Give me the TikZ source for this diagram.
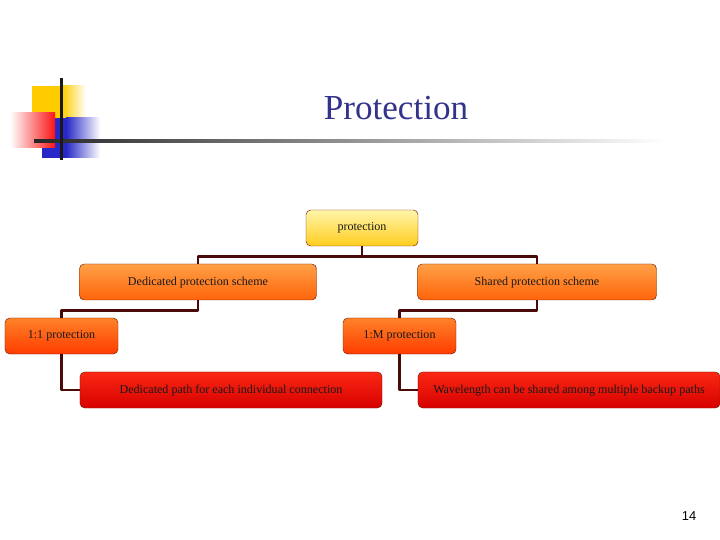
\documentclass[tikz,border=0pt]{standalone}
\usepackage{fontspec}
\setmainfont{Liberation Serif}
\newfontfamily\numfont{Liberation Sans}
\usetikzlibrary{positioning}
\definecolor{boxline}{RGB}{110,30,10}
\definecolor{linkbrown}{RGB}{75,10,10}
\definecolor{titleblue}{RGB}{51,51,140}
\definecolor{logoyellow}{RGB}{255,204,0}
\definecolor{logoblue}{RGB}{40,40,200}
\definecolor{logored}{RGB}{250,20,20}
\tikzset{box/.style={draw=boxline,rounded corners=4pt,minimum height=1.08cm,inner sep=1pt,
    text=black!90,font=\fontsize{10.3}{12}\selectfont,text depth=0.4ex},
  toplev/.style={box,top color={rgb,255:red,255;green,245;blue,170},bottom color={rgb,255:red,255;green,205;blue,30}},
  midlev/.style={box,top color={rgb,255:red,255;green,160;blue,70},bottom color={rgb,255:red,255;green,100;blue,10}},
  sublev/.style={box,top color={rgb,255:red,255;green,130;blue,40},bottom color={rgb,255:red,255;green,60;blue,0}},
  leaflev/.style={box,top color={rgb,255:red,250;green,40;blue,20},bottom color={rgb,255:red,215;green,0;blue,0}},
  link/.style={draw=linkbrown,line width=2.4pt}}

\begin{document}
\begin{tikzpicture}[x=0.03cm,y=-0.03cm,line join=round]
\useasboundingbox (0,0) rectangle (720,540);
% --- logo in the corner
\fill[logoyellow] (32,86) rectangle (62,118);
\shade[left color=logoyellow,right color=white] (62,86) rectangle (86,118);
\fill[logoblue] (42,118) rectangle (66,158);
\shade[left color=logoblue,right color=white] (66,118) rectangle (100,158);
\shade[left color=white,right color=logored] (10,113) rectangle (55,148);
\shade[left color=black!85,middle color=black!55,right color=white] (34,139.5) rectangle (665,142.5);
\fill[black!90] (59.5,78) rectangle (62.5,160);
\node[titleblue,font=\fontsize{30}{34}\selectfont] (title) at (396,108) {Protection};
% --- tree
\node[toplev,minimum width=3.36cm] (prot) at (362,228) {protection};
\node[midlev,minimum width=7.11cm] (ded) at (198,282) {Dedicated protection scheme};
\node[midlev,minimum width=7.17cm] (shared) at (537,282) {Shared protection scheme};
\node[sublev,minimum width=3.39cm] (one) at (61.5,336) {1:1 protection};
\node[sublev,minimum width=3.39cm] (onem) at (399.5,336) {1:M protection};
\node[leaflev,minimum width=9.06cm] (dpath) at (231,390) {Dedicated path for each individual connection};
\node[leaflev,minimum width=9.06cm] (wave) at (569,390) {Wavelength can be shared among multiple backup paths};
\draw[link] (prot.south) -- ++(0,10) -| (ded.north);
\draw[link] (prot.south) -- ++(0,10) -| (shared.north);
\draw[link] (ded.south) -- ++(0,10) -| (one.north);
\draw[link] (shared.south) -- ++(0,10) -| (onem.north);
\draw[link] (one.south) |- (dpath.west);
\draw[link] (onem.south) |- (wave.west);
\node[font=\numfont\fontsize{11}{13}\selectfont] (pgno) at (689,516) {14};
\end{tikzpicture}
\end{document}
